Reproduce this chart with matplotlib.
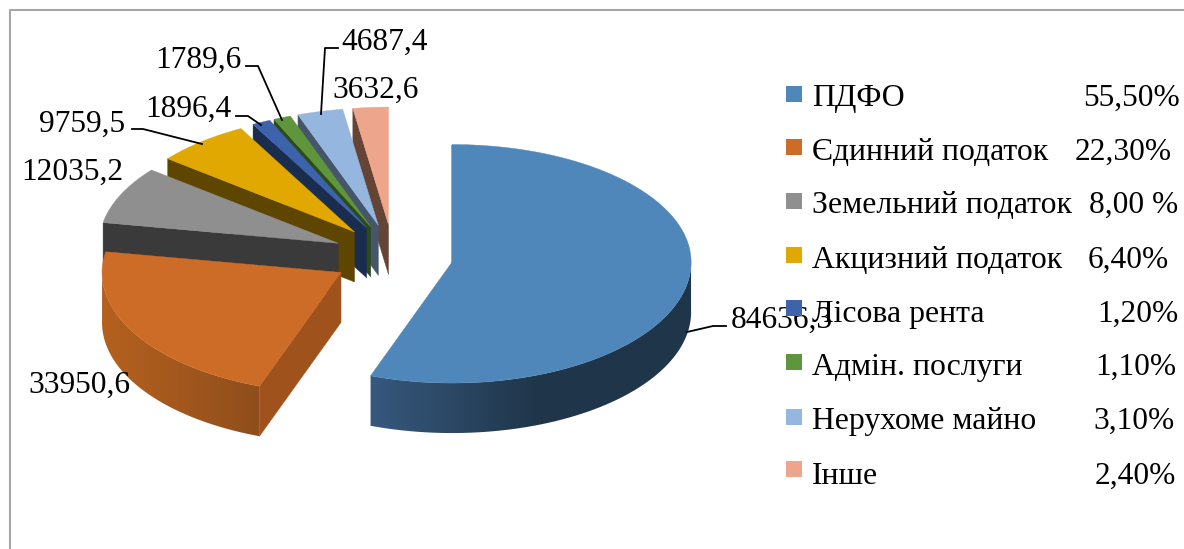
"""Exploded 3D-look pie of local budget revenues, drawn from the values."""
import numpy as np
import matplotlib
matplotlib.use("Agg")
import matplotlib.pyplot as plt
from matplotlib.colors import LinearSegmentedColormap
from matplotlib.patches import Polygon, Rectangle

names = ["ПДФО", "Єдинний податок", "Земельний податок", "Акцизний податок",
         "Лісова рента", "Адмін. послуги", "Нерухоме майно", "Інше"]
values = [84636.3, 33950.6, 12035.2, 9759.5, 1896.4, 1789.6, 4687.4, 3632.6]
value_labels = ["84636,3", "33950,6", "12035,2", "9759,5",
                "1896,4", "1789,6", "4687,4", "3632,6"]
percents = ["55,50%", "22,30%", "8,00 %", "6,40%", "1,20%", "1,10%", "3,10%", "2,40%"]
top_colors = ["#4F87BA", "#CD6C27", "#8F8F8F", "#E0A800",
              "#3C63AC", "#5F963B", "#95B6DE", "#EDA68C"]
wall_colors = ["#1F3549", "#9F521C", "#3A3A3A", "#5E4500",
               "#1B2D4F", "#2E4A1C", "#45566B", "#644434"]

# label placement: left x, baseline y (image pixels)
label_pos = [(731, 328), (28, 393), (21, 180), (39, 132),
             (145, 117), (155, 68), (341, 50), (332, 98)]
leaders = [[(687, 332), (713, 326), (726, 326)],
           [(132, 129), (143, 129), (202, 144)],
           [(236, 116), (248, 116), (261, 125)],
           [(246, 66), (258, 66), (282, 120)],
           [(338, 48), (325, 48), (321, 114)]]
legend_y = [86, 139, 193, 247, 300, 354, 409, 461]
legend_base = [106, 160, 213, 268, 322, 375, 429, 484]
percent_right = [1180, 1172, 1178, 1169, 1178, 1176, 1175, 1176]

# pie geometry
CX, CY = 393, 256.5
RX = 239
RY_FRONT, RY_BACK = 121, 117.5  # back half a bit flatter, perspective
EX, EY = 60, 32  # explosion of each slice
DEPTH = 50
FONT = "Liberation Serif"
FS_NAME = 22.9
FS_VALUE = 22.6

# outer-wall shading, lighter on the left (colour left, colour right, x0, x1)
side_shade = {0: ("#37597E", "#1F3549", 370, 540),
              1: ("#B5611F", "#8F4E1C", 102, 262)}

fig = plt.figure(figsize=(11.84, 5.49), dpi=100)
ax = fig.add_axes([0, 0, 1, 1])

# frame, only left and top show in the crop
ax.plot([10, 10, 1184], [549, 10, 10], color="#A6A6A6", lw=1.5, zorder=1)

fracs = np.array(values) / sum(values)
ends = np.cumsum(fracs) * 2 * np.pi
starts = ends - fracs * 2 * np.pi

# back to front: small slices first, big blue last
order = [7, 6, 5, 4, 3, 2, 1, 0]
z = 2
for i in order:
    a0, a1 = starts[i], ends[i]
    mid = (a0 + a1) / 2
    ax0 = CX + EX * np.sin(mid)
    ay0 = CY - EY * np.cos(mid)
    th = np.linspace(a0, a1, max(int(np.degrees(a1 - a0) * 2), 4))
    xs = ax0 + RX * np.sin(th)
    cs = np.cos(th)
    ys = ay0 - np.where(cs > 0, RY_BACK, RY_FRONT) * cs

    # cut face on the start edge
    wall = [(ax0, ay0), (xs[0], ys[0]), (xs[0], ys[0] + DEPTH), (ax0, ay0 + DEPTH)]
    ax.add_patch(Polygon(wall, fc=wall_colors[i], ec=wall_colors[i], lw=0.3, zorder=z))

    # rim, only the front half can be seen; gradient image clipped to its outline
    if i in side_shade:
        c1, c2, x0, x1 = side_shade[i]
        front = cs <= 0.02
        rim = list(zip(xs[front], ys[front])) + list(zip(xs[front][::-1], ys[front][::-1] + DEPTH))
        patch = Polygon(rim, fc="none", ec="none", transform=ax.transData)
        ax.add_patch(patch)
        cmap = LinearSegmentedColormap.from_list("rim", [c1, c2])
        im = ax.imshow(np.linspace(0, 1, 256).reshape(1, -1), cmap=cmap, aspect="auto",
                       extent=(x0, x1, 549, 0), zorder=z, interpolation="bilinear")
        # past x1 the colour just stays flat
        tail = ax.imshow(np.ones((1, 2)), cmap=cmap, vmin=0, vmax=1, aspect="auto",
                         extent=(x1, 1184, 549, 0), zorder=z)
        im.set_clip_path(patch)
        tail.set_clip_path(patch)

    top = [(ax0, ay0)] + list(zip(xs, ys))
    ax.add_patch(Polygon(top, fc=top_colors[i], ec=top_colors[i], lw=0.3, zorder=z + 0.5))
    z += 1

for pts in leaders:
    ax.plot(*zip(*pts), color="black", lw=1.3, zorder=20)

for lab, (x, y) in zip(value_labels, label_pos):
    ax.text(x, y, lab, family=FONT, fontsize=FS_VALUE, va="baseline", ha="left", zorder=21)

for i, name in enumerate(names):
    ax.text(812, legend_base[i], name, family=FONT, fontsize=FS_NAME,
            va="baseline", ha="left", zorder=22)
    ax.text(percent_right[i], legend_base[i], percents[i], family=FONT, fontsize=FS_VALUE,
            va="baseline", ha="right", zorder=22)
    ax.add_patch(Rectangle((786, legend_y[i]), 16, 16, fc=top_colors[i], ec="none", zorder=23))

ax.set_xlim(0, 1184)
ax.set_ylim(549, 0)
ax.axis("off")

fig.savefig("out.png", dpi=100)
